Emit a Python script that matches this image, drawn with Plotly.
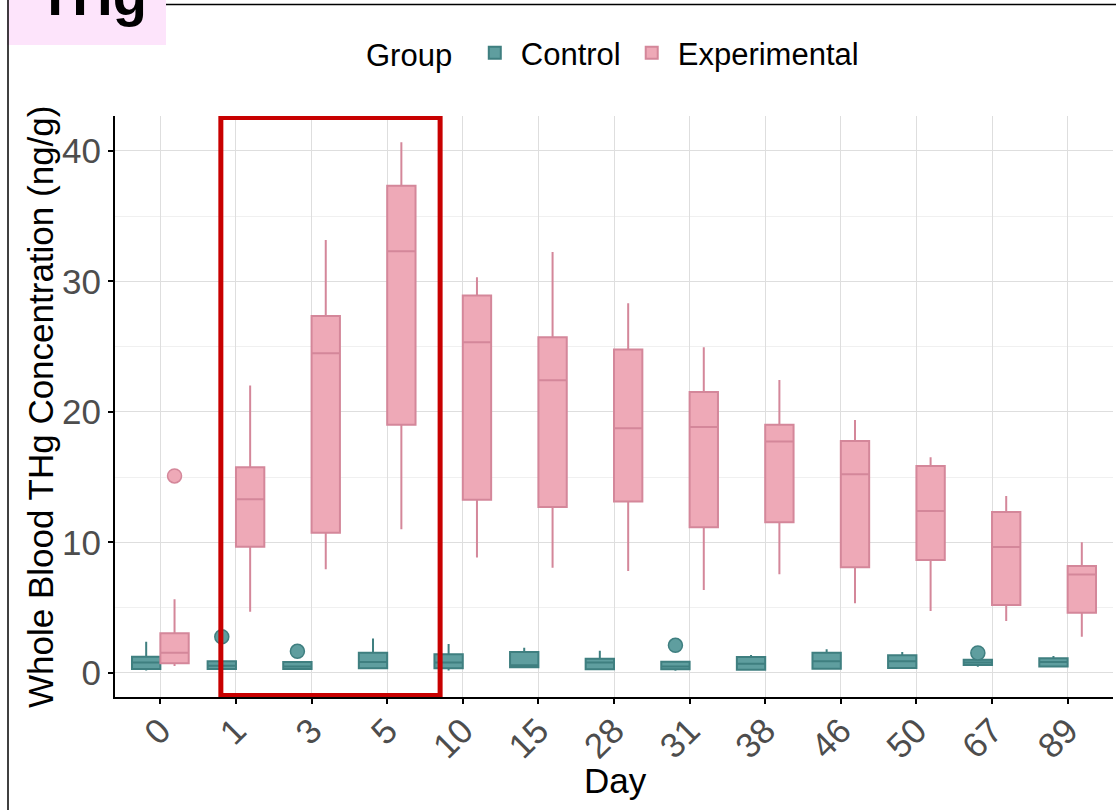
import plotly.graph_objects as go

days = ["0", "1", "3", "5", "10", "15", "28", "31", "38", "46", "50", "67", "89"]

# Control group box statistics
ctrl_low = [0.20, 0.25, 0.25, 0.30, 0.20, 0.40, 0.25, 0.18, 0.23, 0.30, 0.33, 0.48, 0.49]
ctrl_q1 = [0.30, 0.30, 0.30, 0.36, 0.36, 0.44, 0.28, 0.28, 0.25, 0.33, 0.38, 0.61, 0.49]
ctrl_med = [0.80, 0.55, 0.50, 0.84, 0.80, 0.60, 0.80, 0.50, 0.70, 0.89, 0.90, 0.80, 0.84]
ctrl_q3 = [1.25, 0.90, 0.85, 1.55, 1.43, 1.60, 1.10, 0.87, 1.23, 1.56, 1.35, 1.02, 1.12]
ctrl_high = [2.40, 0.90, 0.85, 2.65, 2.22, 1.94, 1.70, 0.87, 1.38, 1.81, 1.60, 1.02, 1.30]
ctrl_out_day = ["1", "3", "31", "67"]
ctrl_out_val = [2.78, 1.66, 2.12, 1.53]

# Experimental group box statistics
exp_low = [0.54, 4.70, 7.94, 11.01, 8.84, 8.07, 7.82, 6.36, 7.56, 5.34, 4.75, 3.98, 2.78]
exp_q1 = [0.74, 9.68, 10.75, 19.03, 13.28, 12.72, 13.15, 11.16, 11.55, 8.10, 8.66, 5.21, 4.62]
exp_med = [1.55, 13.31, 24.50, 32.31, 25.34, 22.43, 18.75, 18.85, 17.73, 15.22, 12.41, 9.66, 7.54]
exp_q3 = [3.04, 15.76, 27.36, 37.34, 28.92, 25.72, 24.78, 21.53, 19.03, 17.78, 15.86, 12.34, 8.20]
exp_high = [5.65, 22.02, 33.18, 40.66, 30.32, 32.26, 28.33, 24.96, 22.45, 19.39, 16.53, 13.56, 10.01]
exp_out_day = ["0"]
exp_out_val = [15.1]

DODGE = 0.1875
BW = 0.375
idx = {d: i for i, d in enumerate(days)}

CTRL_FILL = "#5F9E9F"
CTRL_LINE = "#3F7F80"
EXP_FILL = "#EEA9B7"
EXP_LINE = "#D4879A"
FONT = "Liberation Sans"

fig = go.Figure()

fig.add_trace(go.Box(
    name="Control",
    x=[i - DODGE for i in range(len(days))],
    q1=ctrl_q1, median=ctrl_med, q3=ctrl_q3,
    lowerfence=ctrl_low, upperfence=ctrl_high,
    width=BW, whiskerwidth=0,
    fillcolor=CTRL_FILL, line=dict(color=CTRL_LINE, width=2),
    boxpoints=False, hoverinfo="skip",
))
fig.add_trace(go.Box(
    name="Experimental",
    x=[i + DODGE for i in range(len(days))],
    q1=exp_q1, median=exp_med, q3=exp_q3,
    lowerfence=exp_low, upperfence=exp_high,
    width=BW, whiskerwidth=0,
    fillcolor=EXP_FILL, line=dict(color=EXP_LINE, width=2),
    boxpoints=False, hoverinfo="skip",
))

fig.add_trace(go.Scatter(
    x=[idx[d] - DODGE for d in ctrl_out_day], y=ctrl_out_val,
    mode="markers", showlegend=False, hoverinfo="skip",
    marker=dict(size=14, color=CTRL_FILL, line=dict(color=CTRL_LINE, width=1.5)),
))
fig.add_trace(go.Scatter(
    x=[idx[d] + DODGE for d in exp_out_day], y=exp_out_val,
    mode="markers", showlegend=False, hoverinfo="skip",
    marker=dict(size=14, color=EXP_FILL, line=dict(color=EXP_LINE, width=1.5)),
))

W, H = 1116, 810
ML, MR, MT, MB = 115, 3, 116, 113
PW, PH = W - ML - MR, H - MT - MB


def px_x(p):
    return (p - ML) / PW


def px_y(p):
    return (H - MB - p) / PH


shapes = [
    # highlight rectangle around days 1-5
    dict(type="rect", xref="x", yref="y", x0=0.80, x1=3.70, y0=-1.72, y1=42.57,
         line=dict(color="#C80000", width=5), fillcolor="rgba(0,0,0,0)", layer="above"),
    # title background
    dict(type="rect", xref="paper", yref="paper", x0=px_x(7), x1=px_x(166), y0=px_y(45), y1=px_y(-2),
         line=dict(width=0), fillcolor="#FDE4FB", layer="below"),
    # outer panel borders
    dict(type="line", xref="paper", yref="paper", x0=px_x(8), x1=px_x(8), y0=px_y(812), y1=px_y(-2),
         line=dict(color="black", width=1.5)),
    dict(type="line", xref="paper", yref="paper", x0=px_x(166), x1=px_x(1118), y0=px_y(4.5), y1=px_y(4.5),
         line=dict(color="black", width=1.5)),
]

fig.update_layout(
    width=W, height=H,
    margin=dict(l=ML, r=MR, t=MT, b=MB),
    paper_bgcolor="white", plot_bgcolor="white",
    font=dict(family=FONT, color="black"),
    boxmode="overlay",
    shapes=shapes,
    showlegend=True,
    legend=dict(
        orientation="h", x=0.5, xanchor="center", y=px_y(53), yanchor="middle",
        title=dict(text="Group ", side="left", font=dict(size=31, family=FONT, color="black")),
        font=dict(size=31, family=FONT, color="black"),
        itemwidth=42,
        bgcolor="rgba(0,0,0,0)",
    ),
    annotations=[
        dict(text="<b>THg</b>", xref="paper", yref="paper", x=px_x(92), y=px_y(29),
             xanchor="center", yanchor="bottom", showarrow=False,
             font=dict(size=56, family=FONT, color="black")),
        # axis titles
        dict(text="Day", xref="paper", yref="paper", x=px_x(615), y=px_y(780),
             xanchor="center", yanchor="middle", showarrow=False,
             font=dict(size=35, family=FONT, color="black")),
        dict(text="Whole Blood THg Concentration (ng/g)", xref="paper", yref="paper",
             x=px_x(40), y=px_y(407), xanchor="center", yanchor="middle", textangle=-90,
             showarrow=False, font=dict(size=35, family=FONT, color="black")),
    ],
    xaxis=dict(
        range=[-0.6, 12.6], tickmode="array", tickvals=list(range(len(days))), ticktext=days,
        tickangle=-45, tickfont=dict(size=35, color="#4D4D4D", family=FONT),
        ticklabelstandoff=-8,
        showline=True, linecolor="black", linewidth=2, automargin=False,
        ticks="outside", ticklen=5, tickwidth=1.5, tickcolor="black",
        showgrid=True, gridcolor="#DEDEDE", gridwidth=1, zeroline=False,
    ),
    yaxis=dict(
        range=[-1.84, 42.68], tickmode="array", tickvals=[0, 10, 20, 30, 40],
        tickfont=dict(size=35, color="#4D4D4D", family=FONT),
        showline=True, linecolor="black", linewidth=2, automargin=False,
        ticks="outside", ticklen=5, tickwidth=1.5, tickcolor="black",
        showgrid=True, gridcolor="#DEDEDE", gridwidth=1, zeroline=False,
        minor=dict(tickvals=[5, 15, 25, 35], showgrid=True, gridcolor="#F0F0F0", gridwidth=1, ticks=""),
    ),
)

fig.write_html("out.html")
